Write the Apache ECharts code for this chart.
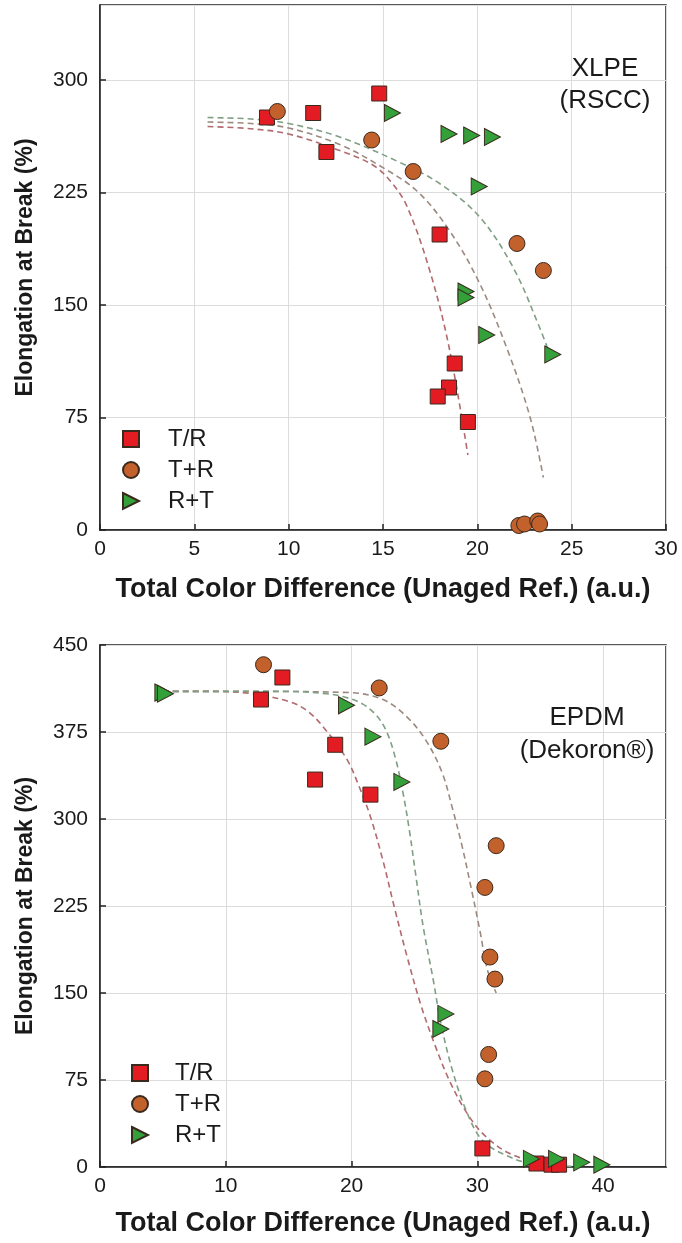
<!DOCTYPE html>
<html>
<head>
<meta charset="utf-8">
<script src="https://cdn.jsdelivr.net/npm/echarts@6/dist/echarts.min.js"></script>
<style>
html,body{margin:0;padding:0;background:#fff;}
#chart{width:682px;height:1243px;}
</style>
</head>
<body>
<div id="chart"></div>
<script>
// ---------- DATA ----------
const seriesNames = ['T/R', 'T+R', 'R+T'];

// Top panel: XLPE (RSCC)
const topTR  = [[8.85,275],[11.3,278],[12.0,252],[14.8,291],[18.0,197],[18.8,111],[18.5,95],[17.9,89],[19.5,72]];
const topTpR = [[9.4,279],[14.4,260],[16.6,239],[22.1,191],[23.5,173],[22.2,3],[22.5,4],[23.2,6],[23.3,4]];
const topRpT = [[15.5,278],[18.5,264],[19.7,263],[20.8,262],[20.1,229],[19.4,159],[19.4,155],[20.5,130],[24.0,117]];

const fitTopTR  = [[5.7,269],[8,267.5],[10,264],[12.7,253],[14.5,243],[15.5,231],[16.3,215],[17.5,172],[18.5,122],[19.5,50]];
const fitTopTpR = [[5.7,272],[8,271],[10,268],[12.7,257],[14.8,243],[16.8,226],[18.5,200],[20.1,165],[21.6,120],[22.8,75],[23.5,35]];
const fitTopRpT = [[5.7,275],[8,274],[10,271],[12.7,262],[15.9,245],[18.0,231],[20.1,209],[21.9,175],[23.3,135],[23.9,115]];

// Bottom panel: EPDM (Dekoron®)
const botTR  = [[12.8,403],[14.5,422],[17.1,334],[18.7,364],[21.5,321],[30.4,16],[34.7,3],[35.9,2],[36.5,2]];
const botTpR = [[13.0,433],[22.2,413],[27.1,367],[31.5,277],[30.6,241],[31.0,181],[31.4,162],[30.9,97],[30.6,76]];
const botRpT = [[5.0,409],[5.2,408],[19.6,398],[21.7,371],[24.0,332],[27.5,132],[27.1,119],[34.3,7],[36.3,7],[38.3,4],[39.9,2]];

const fitBotTR  = [[5,410],[9,410],[12.1,408],[15.1,401],[16.5,393],[17.7,380],[19.6,352],[20.6,328],[21.5,302],[22.5,264],[23.4,224],[24.4,182],[25.5,140],[26.6,106],[27.8,74],[29.2,46],[30.6,27],[32.5,12],[35.2,2]];
const fitBotTpR = [[5,410],[12,410],[19.8,409],[22.5,403],[24.4,388],[25.9,368],[27.2,340],[28.0,310],[28.8,276],[29.5,241],[30.2,204],[30.8,170],[31.5,150]];
const fitBotRpT = [[5,410],[10,410],[15,410],[18,408],[19.5,405],[20.9,399],[22.0,389],[22.8,375],[23.5,352],[24.1,322],[24.6,290],[25.1,252],[25.7,207],[26.5,161],[27.1,124],[28.0,84],[29.1,49],[30.4,23],[32.5,9],[34.7,2],[38,0.5]];

// Axis settings
const xTop = {min:0, max:30, interval:5};
const yTop = {min:0, max:350, interval:75};
const xBot = {min:0, max:45, interval:10};
const yBot = {min:0, max:450, interval:75};

const xTitle = 'Total Color Difference (Unaged Ref.) (a.u.)';
const yTitle = 'Elongation at Break (%)';
const topLabel = 'XLPE\n(RSCC)';
const botLabel = 'EPDM\n(Dekoron®)';

// ---------- STYLE ----------
const FONT = "'Liberation Sans', Arial, sans-serif";
const TXT = '#1a1a1a';
const colSq = '#e31b23', colCi = '#c2612b', colTr = '#33a03a';
const fitCols = ['#b26a6e', '#9c8a80', '#7f9f84'];
const sqPath = 'path://M0,0L1,0L1,1L0,1Z';
const triPath = 'path://M0,0L1,0.5L0,1Z';
const symbols = [sqPath, 'circle', triPath];
const symSizes = [15, 16, [16,17]];
const fills = [colSq, colCi, colTr];

const chart = echarts.init(document.getElementById('chart'), null, {renderer:'canvas'});

function xAxisCfg(ax, gi, nameGap){
  return {
    type:'value', gridIndex:gi, min:ax.min, max:ax.max, interval:ax.interval,
    name:xTitle, nameLocation:'middle', nameGap:nameGap,
    nameTextStyle:{fontFamily:FONT, fontSize:27, fontWeight:'bold', color:TXT},
    axisLine:{show:true, onZero:false, lineStyle:{color:'#222', width:1.5}},
    axisTick:{show:true, inside:true, length:6, lineStyle:{color:'#222', width:1.5}},
    axisLabel:{fontFamily:FONT, fontSize:21, color:TXT, margin:9, showMaxLabel: ax.max % ax.interval === 0},
    splitLine:{show:true, lineStyle:{color:'#dcdcdc', width:1}}
  };
}
function yAxisCfg(ax, gi){
  return {
    type:'value', gridIndex:gi, min:ax.min, max:ax.max, interval:ax.interval,
    name:yTitle, nameLocation:'middle', nameGap:63, nameRotate:90,
    nameTextStyle:{fontFamily:FONT, fontSize:23, fontWeight:'bold', color:TXT},
    axisLine:{show:true, onZero:false, lineStyle:{color:'#222', width:1.5}},
    axisTick:{show:true, inside:true, length:6, lineStyle:{color:'#222', width:1.5}},
    axisLabel:{fontFamily:FONT, fontSize:21, color:TXT, margin:12, showMaxLabel: ax.max % ax.interval === 0},
    splitLine:{show:true, lineStyle:{color:'#dcdcdc', width:1}}
  };
}

function scatter(name, data, k, gi){
  return {
    type:'scatter', name:name, xAxisIndex:gi, yAxisIndex:gi, data:data,
    symbol:symbols[k], symbolSize:symSizes[k], z:5,
    itemStyle:{color:fills[k], borderColor:'#3a2a1e', borderWidth:1, opacity:1}
  };
}
function fit(name, data, k, gi){
  return {
    type:'line', name:name, xAxisIndex:gi, yAxisIndex:gi, data:data,
    showSymbol:false, symbol:'none', smooth:0.35, z:2,
    lineStyle:{color:fitCols[k], width:1.6, type:[6,4]}
  };
}
function legendCfg(left, top, textPad){
  return {
    data:seriesNames, orient:'vertical', left:left, top:top, padding:0,
    itemWidth:16, itemHeight:16, itemGap:7,
    textStyle:{fontFamily:FONT, fontSize:24, color:TXT, lineHeight:24, padding:[0,0,0,textPad]},
    selectedMode:false
  };
}

const option = {
  animation:false,
  backgroundColor:'#fff',
  grid:[
    {left:100, top:5, width:566, height:525, show:true, borderColor:'#222', borderWidth:1.5, backgroundColor:'rgba(0,0,0,0)'},
    {left:100, top:645, width:566, height:522, show:true, borderColor:'#222', borderWidth:1.5, backgroundColor:'rgba(0,0,0,0)'}
  ],
  xAxis:[xAxisCfg(xTop,0,46), xAxisCfg(xBot,1,43)],
  yAxis:[yAxisCfg(yTop,0), yAxisCfg(yBot,1)],
  legend:[legendCfg(122,427,24), legendCfg(131,1061,22)],
  graphic:[
    {type:'text', x:605, y:85, style:{text:topLabel, fontFamily:FONT, fontSize:26, fill:TXT, align:'center', verticalAlign:'middle', lineHeight:32}, z:10},
    {type:'text', x:587, y:734, style:{text:botLabel, fontFamily:FONT, fontSize:26, fill:TXT, align:'center', verticalAlign:'middle', lineHeight:33}, z:10}
  ],
  series:[
    fit('fitTopTR', fitTopTR, 0, 0),
    fit('fitTopTpR', fitTopTpR, 1, 0),
    fit('fitTopRpT', fitTopRpT, 2, 0),
    scatter(seriesNames[0], topTR, 0, 0),
    scatter(seriesNames[1], topTpR, 1, 0),
    scatter(seriesNames[2], topRpT, 2, 0),
    fit('fitBotTR', fitBotTR, 0, 1),
    fit('fitBotTpR', fitBotTpR, 1, 1),
    fit('fitBotRpT', fitBotRpT, 2, 1),
    scatter(seriesNames[0], botTR, 0, 1),
    scatter(seriesNames[1], botTpR, 1, 1),
    scatter(seriesNames[2], botRpT, 2, 1)
  ]
};
chart.setOption(option);
</script>
</body>
</html>
